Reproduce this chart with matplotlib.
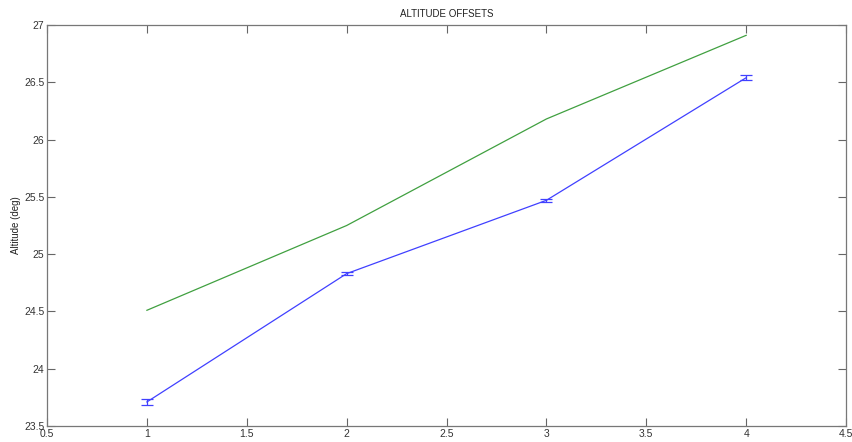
import matplotlib
matplotlib.use('Agg')
import matplotlib.pyplot as plt

# Altitude values per run
runs = [1, 2, 3, 4]
model_alt = [24.51, 25.25, 26.18, 26.91]
measured_alt = [23.71, 24.83, 25.47, 26.54]
measured_err = [0.03, 0.015, 0.015, 0.02]

xticks = [0.5, 1, 1.5, 2, 2.5, 3, 3.5, 4, 4.5]
yticks = [23.5, 24, 24.5, 25, 25.5, 26, 26.5, 27]

plt.rcParams['font.family'] = ['Liberation Sans', 'DejaVu Sans']

fig = plt.figure(figsize=(8.52, 4.42), dpi=100)
ax = fig.add_axes([0.0552, 0.0362, 0.9378, 0.9072])

ax.plot(runs, model_alt, color='#40a040', linewidth=0.9)
ax.errorbar(runs, measured_alt, yerr=measured_err, color='#4040ff',
            linewidth=0.9, capsize=4.5, elinewidth=0.9, capthick=0.9)

ax.set_xlim(0.5, 4.5)
ax.set_ylim(23.5, 27)
ax.set_xticks(xticks)
ax.set_yticks(yticks)
ax.set_xticklabels(['%g' % t for t in xticks])
ax.set_yticklabels(['%g' % t for t in yticks])

ax.tick_params(direction='in', length=6, width=0.8, colors='#666666',
               labelcolor='#333333', labelsize=7.5, top=True, right=True, pad=2)
for s in ax.spines.values():
    s.set_color('#777777')
    s.set_linewidth(0.9)

ax.set_title('ALTITUDE OFFSETS', fontsize=7, pad=6, color='#222222')
ax.set_ylabel('Altitude (deg)', fontsize=7, labelpad=2, color='#222222')

fig.savefig('out.png', dpi=100)
